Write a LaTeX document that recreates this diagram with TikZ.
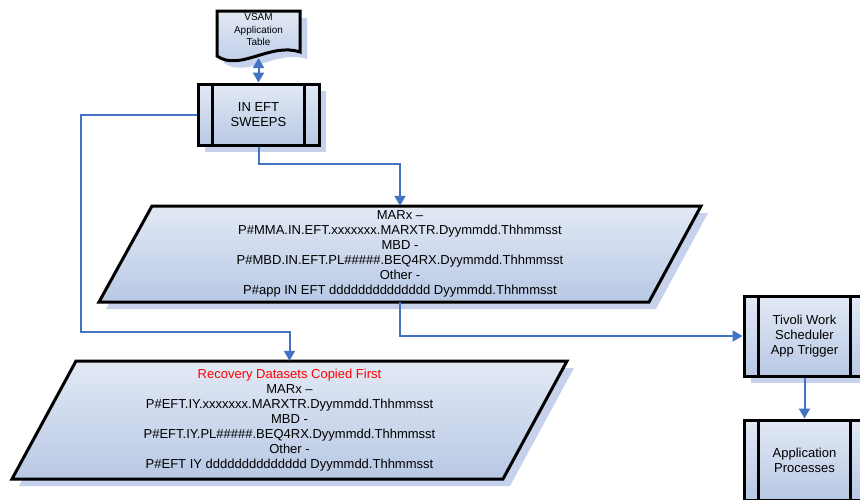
\documentclass[tikz,border=0pt]{standalone}
\usepackage{fontspec}
\setmainfont{Liberation Sans}
\usetikzlibrary{arrows.meta,shadows}

\definecolor{flowblue}{RGB}{68,114,196}
\definecolor{fillTop}{RGB}{226,233,245}
\definecolor{fillBot}{RGB}{184,200,228}
\definecolor{shadowc}{RGB}{198,210,236}
\definecolor{alertred}{RGB}{255,0,0}

\tikzset{
  boxshade/.style={top color=fillTop, bottom color=fillBot},
  dshadow/.style={drop shadow={shadow xshift=7pt, shadow yshift=-7pt, fill=shadowc, opacity=1}},
  outline/.style={draw=black, line width=3pt, line join=miter},
  procbox/.style={outline, boxshade, dshadow, minimum width=121pt, inner sep=0pt,
    align=center, font=\fontsize{13}{15}\selectfont},
  txt/.style={inner sep=0pt, align=center, font=\fontsize{13}{15}\selectfont},
  flow/.style={draw=flowblue, line width=2pt, -{Triangle[length=10pt,width=11pt]}},
  twoway/.style={draw=flowblue, line width=2pt, {Triangle[length=10pt,width=11pt]}-{Triangle[length=10pt,width=11pt]}},
  bar/.style={draw=black, line width=3pt},
}

\begin{document}
\begin{tikzpicture}[x=1pt,y=-1pt]
\clip (0,0) rectangle (860,499);
\fill[white] (0,0) rectangle (860,499);

% VSAM document shape
\path[outline, boxshade, dshadow] (217,11) -- (300,11) -- (300,52)
  .. controls (270,42) and (240,72) .. (217,56) -- cycle;
\node[inner sep=0pt, align=center, font=\fontsize{10}{12.5}\selectfont]
  (vsam) at (258.5,30) {VSAM\\Application\\Table};
\coordinate (vsamb) at (258.5,58);

% process boxes
\node[procbox, minimum height=61pt] (sweeps) at (258.5,114.5) {IN EFT\\SWEEPS};
\node[procbox, minimum height=80pt] (tivoli) at (804.5,336) {Tivoli Work\\Scheduler\\App Trigger};
\node[procbox, minimum height=80pt] (app) at (804.5,460) {Application\\Processes};
\foreach \b in {sweeps,tivoli,app}{
  \draw[bar] ([xshift=16pt]\b.north west) -- ([xshift=16pt]\b.south west);
  \draw[bar] ([xshift=-16pt]\b.north east) -- ([xshift=-16pt]\b.south east);
}

% data parallelograms
\path[outline, boxshade, dshadow] (152,206) -- (701,206) -- (649,302) -- (99,302) -- cycle;
\path[outline, boxshade, dshadow] (76,361) -- (567,361) -- (503,479) -- (12,479) -- cycle;

\node[txt, minimum width=549pt, minimum height=96pt] (p1) at (400,254)
  {MARx –\\P\#MMA.IN.EFT.xxxxxxx.MARXTR.Dyymmdd.Thhmmsst\\MBD -\\P\#MBD.IN.EFT.PL\#\#\#\#\#.BEQ4RX.Dyymmdd.Thhmmsst\\Other -\\P\#app IN EFT dddddddddddddd Dyymmdd.Thhmmsst};
\node[txt, minimum width=490pt, minimum height=118pt] (p2) at (289.5,420)
  {\textcolor{alertred}{Recovery Datasets Copied First}\\MARx –\\P\#EFT.IY.xxxxxxx.MARXTR.Dyymmdd.Thhmmsst\\MBD -\\P\#EFT.IY.PL\#\#\#\#\#.BEQ4RX.Dyymmdd.Thhmmsst\\Other -\\P\#EFT IY dddddddddddddd Dyymmdd.Thhmmsst};

% connectors
\draw[twoway] (vsamb) -- (sweeps.north);
\draw[flow] (sweeps.south) -- ++(0,17) -| (p1.north);
\draw[flow] (sweeps.west) -- ++(-116,0) |- ([yshift=29pt]p2.north) -- (p2.north);
\draw[flow] (p1.south) |- (tivoli.west);
\draw[flow] (tivoli.south) -- (app.north);
\end{tikzpicture}
\end{document}
